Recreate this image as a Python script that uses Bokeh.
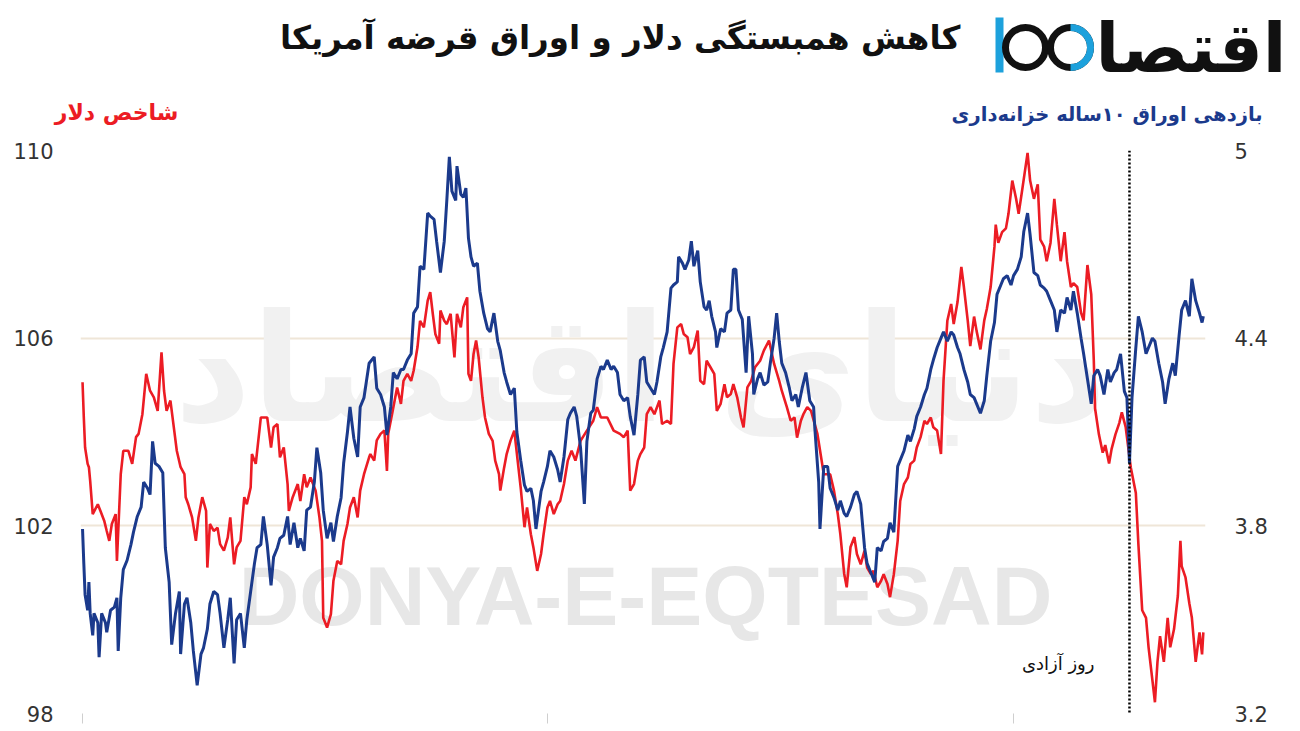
import math
import pandas as pd
from bokeh.plotting import figure
from bokeh.layouts import column
from bokeh.models import (Range1d, LinearAxis, FixedTicker, Span, Label, CustomJSTickFormatter)
from bokeh.embed import file_html
from bokeh.resources import INLINE

# ---------------- data ----------------
start_date = "2023-01-01"
liberation_day = "2025-04-02"
year_ticks = ["2023-01-01", "2024-01-01", "2025-01-01"]

# Dollar index (left axis) - day offset from start_date, value
dxy_day = [
    0, 1, 2, 4, 5, 6, 8, 12, 14, 17,
    19, 21, 23, 26, 27, 30, 32, 36, 39, 42,
    44, 47, 50, 53, 56, 59, 62, 64, 66, 69,
    72, 74, 77, 80, 81, 83, 86, 89, 91, 94,
    97, 98, 100, 103, 106, 108, 111, 114, 116, 119,
    121, 124, 127, 129, 132, 133, 136, 140, 145, 148,
    150, 153, 155, 158, 161, 162, 165, 169, 171, 174,
    176, 179, 183, 186, 188, 189, 192, 195, 197, 200,
    203, 205, 208, 210, 213, 216, 218, 221, 225,
    226, 229, 231, 234, 237, 239, 240, 243, 247, 250,
    252, 255, 258, 260, 263, 265, 268, 271, 273, 275,
    277, 280, 281, 284, 286, 289, 292, 294, 297, 299,
    302, 303, 305, 307, 309, 311, 314, 316, 319, 322,
    324, 327, 328, 331, 333, 336, 339, 344, 347, 349,
    352, 354, 357, 360, 362, 365, 367, 370, 373, 375,
    378, 381, 384, 387, 391, 396, 401, 404, 407, 412,
    417, 422, 425, 428, 430, 433, 436, 438, 441, 443,
    446, 449, 453,
    455, 459, 462, 464, 467, 470, 472, 475, 477, 480,
    483, 485, 488, 490, 493, 496, 498, 501, 504, 506,
    509, 511, 514, 517, 519, 522, 525, 528, 532, 535,
    539, 543, 547, 549, 553, 556, 559, 561, 564, 566,
    569, 572, 577, 582, 587, 590, 593, 595, 598, 600,
    603, 606, 608, 611, 614, 616, 619, 621, 624, 627,
    629, 632, 634, 637, 640, 642, 645, 648, 650, 653,
    655, 658, 661, 663, 666, 668, 671, 674, 676, 679,
    682,
    684, 687, 690, 692, 695, 697, 700, 702, 705, 708,
    710, 713, 716, 717, 719, 722, 725, 727, 730, 733,
    735, 738, 742, 744, 747, 750, 752, 755, 757, 760,
    763, 765, 768, 771, 773, 776, 778, 781, 784, 786,
    789, 792, 794, 795, 798, 801, 803, 806, 808, 811,
    814, 816, 819, 823, 827, 829, 832, 835, 837, 840,
    842, 844, 846, 849, 852, 854, 857, 860, 862, 863,
    866, 869, 871, 874, 877, 879, 880,
]
dxy_val = [
    105.06, 104.31, 103.67, 103.32, 103.25, 102.96, 102.25, 102.46, 102.32, 102.11,
    101.89, 101.68, 102.04, 102.25, 101.25, 103.10, 103.60, 103.60, 103.32, 103.89,
    103.96, 104.38, 105.24, 104.88, 104.74, 104.45, 105.70, 104.88, 104.45, 104.67,
    104.03, 103.60, 103.25, 103.10, 102.61, 102.46, 102.18, 101.68, 102.18, 102.61,
    102.32, 101.11, 102.04, 101.89, 101.96, 101.61, 101.47, 101.75, 102.18, 101.18,
    101.54, 101.68, 102.61, 102.46, 102.82, 103.53, 103.32, 104.31, 104.31, 103.67,
    104.10, 104.17, 103.46, 103.67, 102.89, 102.32, 102.61, 102.89, 102.53, 103.10,
    102.82, 103.03, 102.75, 102.18, 101.68, 100.04, 99.83, 100.12, 100.83, 101.25,
    101.18, 101.68, 102.04, 102.39, 102.61, 102.18, 102.75, 103.10, 103.46,
    103.53, 103.39, 103.82, 103.96, 104.03, 103.17, 103.96, 104.38, 104.95, 104.60,
    105.09, 105.24, 105.09, 105.31, 105.81, 106.37, 106.23, 106.80, 106.98, 106.52,
    106.09, 105.88, 106.59, 106.37, 106.30, 106.52, 105.59, 106.52, 106.23, 106.66,
    106.87, 105.24, 105.09, 105.66, 105.95, 105.59, 104.74, 104.31, 103.96, 103.81,
    103.39, 103.10, 102.75, 103.24, 103.53, 103.81, 104.03, 102.82, 101.97, 102.39,
    101.82, 101.54, 101.04, 101.40, 101.82, 102.39, 102.53, 102.25, 102.46, 102.53,
    102.89, 103.39, 103.60, 103.39, 103.81, 104.03, 104.24, 104.53, 104.31, 104.31,
    104.03, 103.96, 103.89, 104.03, 102.75, 102.89, 103.39, 103.53, 103.67, 104.38,
    104.53, 104.38, 104.67,
    104.17, 104.24, 104.17, 105.45, 106.23, 106.30, 106.09, 106.02, 105.66, 105.81,
    106.16, 105.09, 105.02, 105.52, 105.38, 105.24, 104.45, 104.60, 105.02, 104.74,
    104.81, 105.02, 104.74, 104.31, 104.10, 104.95, 105.09, 105.38, 105.52, 105.74,
    105.95, 105.45, 105.09, 104.88, 104.53, 104.24, 104.31, 103.88, 104.24, 104.38,
    104.53, 104.45, 103.96, 103.10, 103.10, 102.75, 102.25, 101.82, 100.98, 100.69,
    101.55, 101.76, 101.40, 101.18, 101.47, 101.11, 100.97, 101.04, 100.69, 100.83,
    100.97, 100.76, 100.48, 100.97, 101.68, 102.53, 102.89, 103.03, 103.32, 103.39,
    103.67, 103.89, 104.24, 104.17, 104.31, 104.10, 104.03, 103.53, 105.09, 106.37,
    106.73,
    106.30, 106.77, 107.52, 107.09, 106.38, 105.83, 106.46, 106.15, 105.76, 106.38,
    106.62, 107.09, 107.95, 108.42, 108.03, 108.26, 108.34, 108.65, 109.36, 108.97,
    108.65, 109.20, 109.95, 109.36, 108.97, 109.28, 108.10, 107.95, 107.64, 108.03,
    108.97, 108.42, 107.64, 108.26, 107.64, 107.09, 107.17, 107.09, 106.54, 106.38,
    107.56, 106.93, 105.52, 104.50, 103.95, 103.56, 103.72, 103.33, 103.64, 103.95,
    104.19, 104.42, 104.11, 103.25, 102.70, 101.61, 100.20, 100.04, 99.41, 98.71,
    98.24, 99.10, 99.65, 99.10, 100.04, 99.41, 99.80, 100.51, 101.68, 101.14,
    100.90, 100.35, 100.04, 99.10, 99.73, 99.26, 99.73,
]

# 10-year Treasury yield (right axis) - day offset from start_date, value
yld_day = [
    0, 1, 2, 4, 5, 6, 8, 9, 12, 13,
    15, 18, 19, 22, 25, 27, 28, 30, 32, 35,
    38, 40, 43, 46, 48, 51, 53, 55, 57, 60,
    63, 65, 68, 70, 73, 76, 77, 80, 82, 85,
    87, 90, 93, 95, 98, 100, 103, 106, 108, 111,
    114, 116, 119, 121, 124, 127, 129, 132, 135, 137,
    140, 142, 145, 148, 150, 153, 155, 158, 161, 163,
    166, 169, 171, 174, 176, 179, 182, 184, 187, 189,
    192, 195, 197, 200, 203, 205, 208, 210, 213, 216,
    218, 221, 225,
    229, 231, 234, 237, 239, 242, 244, 247, 250, 252,
    255, 258, 260, 263, 265, 268, 271, 273, 276, 278,
    281, 284, 286, 288, 290, 293, 294, 297, 299, 301,
    303, 305, 307, 310, 312, 315, 318, 320, 323, 326,
    328, 331, 333, 336, 339, 341, 344, 347, 349, 352,
    354, 356, 360, 362, 365, 367, 370, 373, 375, 378,
    381, 383, 386, 388, 391, 394, 396, 399, 401, 404,
    407, 409, 412, 415, 417, 420, 422, 425, 428, 430,
    433, 436, 438, 441, 443, 446, 449, 451, 454,
    456, 459, 462, 464, 467, 468, 471, 473, 476, 478,
    480, 483, 485, 488, 490, 492, 494, 497, 498, 501,
    504, 506, 509, 511, 513, 515, 518, 521, 523, 526,
    527, 530, 532, 535, 538, 540, 543, 545, 547, 549,
    552, 555, 557, 560, 562, 565, 568, 571, 574, 575,
    578, 579, 582, 585, 587, 590, 593, 595, 598, 600,
    603, 606, 608, 611, 614, 616, 619, 622, 624, 627,
    629, 632, 634, 637, 640, 642, 645, 648, 650, 653,
    655, 658, 661, 663, 666, 668, 671, 674, 676, 679,
    682,
    684, 687, 689, 692, 695, 697, 700, 702, 705, 708,
    710, 713, 716, 718, 721, 723, 726, 729, 731, 734,
    737, 739, 742, 744, 747, 750, 752, 755, 757, 760,
    763, 765, 768, 771, 773, 776, 778, 781, 784, 786,
    789, 792, 794, 797, 799, 802, 805, 807, 810, 812,
    815, 818, 820, 822, 824, 827, 829, 832, 835, 837,
    840, 842, 845, 848, 850, 853, 856, 858, 861, 863,
    866, 869, 871, 874, 877, 879, 880,
]
yld_val = [
    3.79, 3.68, 3.58, 3.53, 3.62, 3.52, 3.45, 3.52, 3.49, 3.38,
    3.52, 3.49, 3.46, 3.53, 3.54, 3.57, 3.40, 3.57, 3.66, 3.69,
    3.74, 3.78, 3.83, 3.86, 3.94, 3.92, 3.90, 4.07, 4.00, 3.99,
    3.97, 3.73, 3.62, 3.42, 3.52, 3.59, 3.39, 3.55, 3.57, 3.49,
    3.40, 3.29, 3.39, 3.41, 3.47, 3.55, 3.59, 3.58, 3.52, 3.41,
    3.50, 3.57, 3.36, 3.50, 3.52, 3.41, 3.50, 3.59, 3.68, 3.73,
    3.74, 3.83, 3.74, 3.61, 3.70, 3.73, 3.76, 3.77, 3.83, 3.74,
    3.81, 3.73, 3.76, 3.72, 3.85, 3.86, 3.94, 4.05, 3.97, 3.85,
    3.76, 3.81, 3.75, 3.83, 3.89, 4.00, 4.10, 4.18, 4.08, 4.02,
    4.18, 4.21, 4.32,
    4.34, 4.24, 4.22, 4.18, 4.09, 4.18, 4.29, 4.27, 4.30, 4.30,
    4.33, 4.35, 4.48, 4.50, 4.63, 4.62, 4.80, 4.79, 4.78, 4.71,
    4.61, 4.71, 4.84, 4.98, 4.87, 4.84, 4.95, 4.86, 4.85, 4.88,
    4.72, 4.66, 4.63, 4.64, 4.55, 4.48, 4.43, 4.42, 4.48, 4.39,
    4.36, 4.29, 4.26, 4.22, 4.24, 4.10, 4.01, 3.93, 3.91, 3.92,
    3.88, 3.79, 3.91, 3.94, 3.99, 4.04, 4.02, 3.98, 3.94, 4.02,
    4.14, 4.16, 4.18, 4.15, 4.05, 3.87, 4.07, 4.16, 4.17, 4.27,
    4.31, 4.30, 4.33, 4.30, 4.31, 4.29, 4.22, 4.20, 4.21, 4.15,
    4.09, 4.22, 4.33, 4.34, 4.26, 4.24, 4.22, 4.26, 4.34,
    4.37, 4.42, 4.56, 4.57, 4.58, 4.66, 4.64, 4.62, 4.65, 4.71,
    4.63, 4.68, 4.58, 4.50, 4.49, 4.52, 4.47, 4.42, 4.37, 4.43,
    4.42, 4.48, 4.49, 4.62, 4.62, 4.49, 4.46, 4.29, 4.47, 4.35,
    4.22, 4.27, 4.29, 4.25, 4.26, 4.32, 4.40, 4.48, 4.39, 4.32,
    4.29, 4.24, 4.20, 4.22, 4.18, 4.24, 4.29, 4.20, 4.18, 4.11,
    3.94, 3.79, 3.99, 3.99, 3.92, 3.89, 3.85, 3.88, 3.84, 3.83,
    3.86, 3.90, 3.91, 3.87, 3.73, 3.68, 3.65, 3.62, 3.73, 3.72,
    3.75, 3.76, 3.81, 3.78, 3.99, 4.01, 4.04, 4.09, 4.07, 4.11,
    4.15, 4.18, 4.22, 4.24, 4.30, 4.33, 4.37, 4.40, 4.42, 4.39,
    4.42,
    4.41, 4.37, 4.35, 4.30, 4.26, 4.22, 4.21, 4.19, 4.16, 4.20,
    4.28, 4.39, 4.45, 4.54, 4.57, 4.59, 4.60, 4.57, 4.60, 4.62,
    4.66, 4.74, 4.80, 4.73, 4.61, 4.60, 4.57, 4.56, 4.55, 4.52,
    4.49, 4.42, 4.49, 4.48, 4.53, 4.49, 4.55, 4.48, 4.40, 4.35,
    4.27, 4.19, 4.28, 4.30, 4.28, 4.22, 4.30, 4.26, 4.29, 4.30,
    4.35, 4.23, 4.21, 4.00, 4.21, 4.37, 4.47, 4.42, 4.35, 4.37,
    4.40, 4.39, 4.32, 4.26, 4.19, 4.27, 4.32, 4.28, 4.41, 4.49,
    4.52, 4.47, 4.59, 4.52, 4.48, 4.45, 4.47,
]

left_ticks = [98, 102, 106, 110]
right_ticks = [3.2, 3.8, 4.4, 5.0]

title_text = "کاهش همبستگی دلار و اوراق قرضه آمریکا"
left_title = "شاخص دلار"
right_title = "بازدهی اوراق ۱۰ساله خزانه‌داری"
event_text = "روز آزادی"
logo_text = "اقتصا"
watermark_fa = "دنیای اقتصاد"
watermark_en = "DONYA-E-EQTESAD"

RED = "#ec1c24"
BLUE = "#1b3a8c"
LOGO_BLUE = "#1da1dc"
GRID = "#efe6d8"
FA_FONT = "DejaVu Sans"

W = 1300
HEAD_H = 135
MAIN_H = 731 - HEAD_H

# ---------------- header (title, logo, axis titles) ----------------
head = figure(width=W, height=HEAD_H, x_range=Range1d(0, W), y_range=Range1d(HEAD_H, 0),
              output_backend="svg", toolbar_location=None, min_border=0)
head.axis.visible = False
head.grid.visible = False
head.outline_line_color = None

head.add_layout(Label(x=960, y=37, text=title_text, text_font=FA_FONT, text_font_size="32.5px",
                      text_font_style="bold", text_color="#111111",
                      text_align="right", text_baseline="middle"))
head.add_layout(Label(x=178, y=112, text=left_title, text_font=FA_FONT, text_font_size="22px",
                      text_font_style="bold", text_color=RED,
                      text_align="right", text_baseline="middle"))
head.add_layout(Label(x=1262, y=114, text=right_title, text_font=FA_FONT, text_font_size="19.5px",
                      text_font_style="bold", text_color=BLUE,
                      text_align="right", text_baseline="middle"))
# logo
head.quad(left=[995], right=[1003], top=[17], bottom=[72], fill_color=LOGO_BLUE, line_color=None)
head.circle(x=[1025], y=[47], radius=20, fill_color=None, line_color="#111111", line_width=7)
head.circle(x=[1070], y=[47], radius=20, fill_color=None, line_color="#111111", line_width=7)
head.arc(x=[1070], y=[47], radius=20, start_angle=-math.pi / 2, end_angle=math.pi / 2,
         line_color=LOGO_BLUE, line_width=7)
head.add_layout(Label(x=1286, y=47, text=logo_text, text_font=FA_FONT, text_font_size="69px",
                      text_font_style="bold", text_color="#111111",
                      text_align="right", text_baseline="alphabetic"))

# ---------------- main chart ----------------
base = pd.Timestamp(start_date)
dxy_x = base + pd.to_timedelta(dxy_day, unit="D")
yld_x = base + pd.to_timedelta(yld_day, unit="D")

def ms(ts):
    return (pd.Timestamp(ts) - pd.Timestamp("1970-01-01")).total_seconds() * 1000.0

x_start = ms(base) - 1.6 * 86400000
x_end = ms(base) + 881.7 * 86400000

p = figure(width=W, height=MAIN_H, x_axis_type="datetime",
           x_range=Range1d(x_start, x_end), y_range=Range1d(98, 110),
           output_backend="svg", toolbar_location=None,
           min_border_left=80, min_border_right=95, min_border_top=150 - HEAD_H,
           min_border_bottom=18)
p.outline_line_color = None
p.extra_y_ranges = {"yld": Range1d(3.2, 5.0)}

# keep the header's frame independent of the chart's frame
for fig in (head, p):
    try:
        fig.frame_align = False
    except Exception:
        pass

p.xgrid.grid_line_color = None
p.ygrid.ticker = FixedTicker(ticks=left_ticks)
p.ygrid.grid_line_color = GRID
p.ygrid.grid_line_width = 2

ya = p.yaxis[0]
ya.ticker = FixedTicker(ticks=left_ticks)
ya.axis_line_color = None
ya.major_tick_line_color = None
ya.minor_tick_line_color = None
ya.major_label_standoff = 21
ya.major_label_text_font = "DejaVu Sans"
ya.major_label_text_font_size = "21px"
ya.major_label_text_color = "#333333"

ra = LinearAxis(y_range_name="yld", ticker=FixedTicker(ticks=right_ticks),
                formatter=CustomJSTickFormatter(code="return (Math.round(tick*10)/10).toString()"))
ra.axis_line_color = None
ra.major_tick_line_color = None
ra.minor_tick_line_color = None
ra.major_label_standoff = 23
ra.major_label_text_font = "DejaVu Sans"
ra.major_label_text_font_size = "21px"
ra.major_label_text_color = "#333333"
p.add_layout(ra, "right")

xa = p.xaxis[0]
xa.ticker = FixedTicker(ticks=[ms(t) for t in year_ticks])
xa.formatter = CustomJSTickFormatter(code="return ''")
xa.axis_line_color = None
xa.major_tick_line_color = "#cfcfcf"
xa.major_tick_out = 10
xa.major_tick_in = 0
xa.minor_tick_line_color = None
xa.major_label_standoff = 0
xa.major_label_text_font_size = "1px"

# watermarks (screen units, relative to the frame's bottom-left corner)
p.add_layout(Label(x=560, y=345, x_units="screen", y_units="screen", text=watermark_fa,
                   text_font=FA_FONT, text_font_size="150px", text_font_style="bold",
                   text_color="#f1f1f1", text_align="center", text_baseline="middle",
                   level="underlay"))
p.add_layout(Label(x=565, y=118, x_units="screen", y_units="screen", text=watermark_en,
                   text_font="Liberation Sans", text_font_size="84px", text_font_style="bold",
                   text_color="#e7e7e7", text_align="center", text_baseline="middle",
                   level="underlay"))

p.line(dxy_x, dxy_val, line_color=RED, line_width=2.6)
p.line(yld_x, yld_val, line_color=BLUE, line_width=3, y_range_name="yld")

p.add_layout(Span(location=ms(liberation_day), dimension="height", line_color="black",
                  line_width=2.5, line_dash="2 2"))
p.add_layout(Label(x=1014, y=50, x_units="screen", y_units="screen", text=event_text,
                   text_font=FA_FONT, text_font_size="18px", text_color="#111111",
                   text_align="right", text_baseline="middle"))

layout = column(head, p, spacing=0)
open("out.html", "w").write(file_html(layout, INLINE))
